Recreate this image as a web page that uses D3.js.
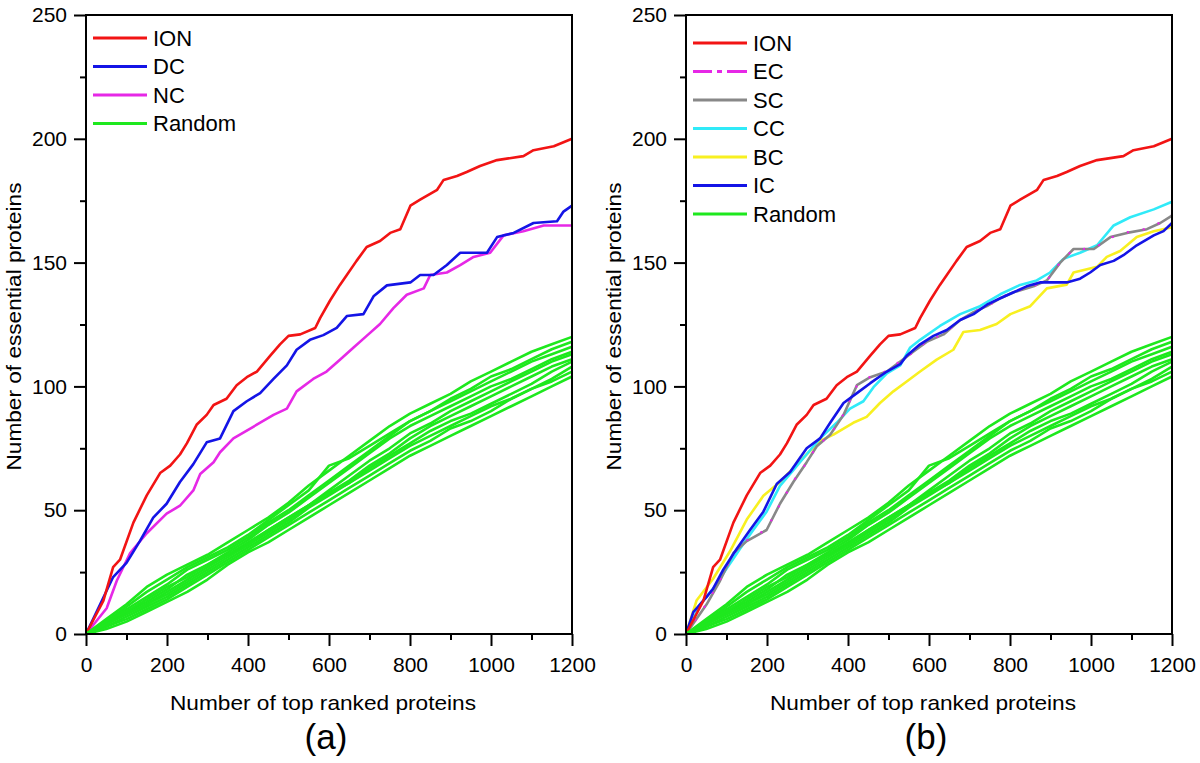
<!DOCTYPE html>
<html><head><meta charset="utf-8">
<script src="https://cdn.jsdelivr.net/npm/d3@7"></script>
<style>
body{margin:0;background:#fff;}
svg text{font-family:"Liberation Sans",Arial,Helvetica,sans-serif;fill:#000;}
</style></head>
<body><svg id="chart" width="1200" height="763"></svg>
<script>
// ---------- DATA ----------
const xTicks = [0,200,400,600,800,1000,1200];
const xMinor = [100,300,500,700,900,1100];
const yTicks = [0,50,100,150,200,250];
const yMinor = [25,75,125,175,225];

const ionX = [0,43,67,84,117,150,183,208,232,249,273,298,315,347,372,397,422,455,479,500,529,566,578,603,627,644,668,693,726,751,776,801,825,867,883,916,940,973,1015,1080,1105,1155,1200];
const ionY = [0,13.5,27,30,45,56,65,68,72.5,77,84.5,88.5,92.5,95,100.5,103.7,106,112.4,117,120.4,121,123.6,127.6,134.8,141,145,150.7,156.3,158.7,162,163.5,173,175.4,179.4,183.4,185,186.6,189,191.4,193,195.4,197,200];

const dcX = [0,35,67,100,133,166,199,232,265,298,331,364,397,430,463,496,520,553,586,619,644,685,710,743,801,825,858,891,924,990,1015,1056,1105,1163,1179,1200];
const dcY = [0,12,23,28.7,37.5,47,52.6,61.4,68.6,77.4,79,90,94,97.3,103,108.5,114.8,118.8,120.7,123.6,128.4,129.2,136.4,140.8,142,145,145,149,154,154,160.3,162,166,166.7,170.6,173];

const ncX = [0,51,76,109,150,199,232,265,282,315,331,364,413,463,496,520,561,594,627,660,693,726,759,792,834,850,891,924,957,998,1031,1080,1130,1200];
const ncY = [0,10.4,21.5,32.7,40.7,48.6,51.8,58,64.6,69.4,73.4,79,83.7,88.5,91,98,103,106,110.8,115.6,120.4,125.2,131.6,137,139.6,145,146,149,152.3,154,161,162.7,165,165];

const icX = [0,18,51,67,92,125,158,191,224,257,298,331,356,389,422,455,496,529,545,578,611,644,677,710,743,776,809,841,874,908,940,973,998,1023,1056,1080,1113,1155,1179,1200];
const icY = [0,8.8,15,18.3,26,34.3,42,49.4,60.6,65.4,75,79,85.3,93.3,97.3,101.3,106,109,112.4,117,120.4,122.8,126.8,129.2,133,135.6,138,140.4,142,142,142,143.5,146,149,150.7,153,157,161,162.7,166];

const ccX = [0,35,67,100,133,166,199,232,265,298,331,372,405,438,463,496,529,553,578,627,677,726,776,825,866,899,932,973,1015,1056,1097,1155,1200];
const ccY = [0,12,18.3,26.3,34.3,42,49.4,59.8,66.2,72.6,79,85.3,91,94,99.7,105.3,108.5,115.6,118.8,124.4,129.2,132.4,137.2,141,142.8,146,151.5,154,157,165,168.3,171.5,174.6];

const scX = [0,51,84,117,150,199,232,265,298,323,356,389,422,455,496,529,561,594,636,677,710,743,776,809,858,891,924,957,1007,1048,1089,1138,1171,1200];
const scY = [0,12,21.5,32.7,37.5,42,52.6,61.4,69.4,75.8,80.5,88.5,100.5,103.7,106,110,114,118,121,126.8,130,132.4,135.6,138,140.4,142.8,150,155.5,155.5,160.3,162,163.5,166,169];

const ecX = [0,51,84,117,150,199,232,265,298,323,356,389,422,455,496,529,561,594,636,677,710,743,776,809,858,891,924,957,1007,1048,1089,1138,1171,1200];
const ecY = [0,12.3,21.8,32.5,37.8,42.3,52.4,61.7,69.2,76,80.3,88.8,100.3,103.9,106.2,110.2,113.8,118.2,121.2,126.6,130.2,132.2,135.8,138.2,140.6,142.6,150.2,155.3,155.7,160.1,162.2,163.7,166.2,169.2];

const bcX = [0,26,67,109,150,191,232,265,298,331,364,413,446,479,512,545,578,619,660,685,726,767,801,850,891,940,957,1015,1039,1072,1113,1155,1200];
const bcY = [0,13.5,22.3,33.5,46.2,55.8,61.4,67,72.6,78,80.5,85.3,87.7,93.3,98,102,106,110.8,114.8,122,122.8,125.2,129.2,132.4,139.6,141.1,146,148.3,152.3,154.7,160.3,162.7,164.3];

// Random runs: values at every 50 proteins (0..1200)
const randX = [0,50,100,150,200,250,300,350,400,450,500,550,600,650,700,750,800,850,900,950,1000,1050,1100,1150,1200];
const randA = [0,6,12,19,24,28,32,37,42,47,53,60,66,72,78,84,89,93,97,102,106,110,114,117,120];
const randB = [0,5,11,17,22,27,31,35,40,46,52,58,68,71,76,81,86,90,95,99,104,107,111,115,118];
const randC = [0,5,10,15,20,26,30,34,39,45,50,56,62,68,74,80,86,90,94,98,102,106,110,113,116];
const randD = [0,4,9,13,18,24,28,33,38,44,49,55,61,67,73,79,84,88,92,96,100,103,107,111,114];
const randE = [0,4,8,12,17,22,27,32,37,42,47,52,58,64,70,75,81,85,90,94,98,102,106,110,113];
const randF = [0,5,9,14,19,23,28,32,36,41,46,52,57,62,68,73,79,84,88,92,96,100,104,108,111];
const randG = [0,3,7,11,15,20,25,30,35,40,45,51,56,61,67,72,77,82,86,89,93,97,101,106,110];
const randH = [0,3,6,10,14,19,24,29,34,39,44,49,54,59,64,69,74,78,83,86,90,95,99,103,108];
const randI = [0,4,8,12,16,21,26,31,36,42,47,52,57,61,66,71,76,80,84,88,92,95,99,102,106];
const randJ = [0,2,5,9,13,17,22,28,33,37,42,47,52,57,62,67,72,76,80,84,88,92,96,100,104];
const randomRuns = [randA,randB,randC,randD,randE,randF,randG,randH,randI,randJ];

const leftLegend  = ["ION","DC","NC","Random"];
const rightLegend = ["ION","EC","SC","CC","BC","IC","Random"];

// ---------- STYLE ----------
const col = {ION:"#f21414", DC:"#1414e6", NC:"#e628e6", Random:"#1ee81e",
             EC:"#e628e6", SC:"#888888", CC:"#30eaf8", BC:"#f8f020", IC:"#1414e6"};

const svg = d3.select("#chart");
const yTop = 15, yBot = 634;
const panels = [
  {x0:86, x1:572, label:"(a)", legend:leftLegend, legY:38, legX:93},
  {x0:686, x1:1172, label:"(b)", legend:rightLegend, legY:43, legX:693}
];

function zip(xs, ys){ return xs.map((x,i)=>[x, ys[i]]); }

panels.forEach((p, pi) => {
  const g = svg.append("g");
  const x = d3.scaleLinear().domain([0,1200]).range([p.x0, p.x1]);
  const y = d3.scaleLinear().domain([0,250]).range([yBot, yTop]);
  const line = d3.line().x(d=>x(d[0])).y(d=>y(d[1]));

  const series = pi === 0
    ? [["NC",zip(ncX,ncY)],["DC",zip(dcX,dcY)],["ION",zip(ionX,ionY)]]
    : [["BC",zip(bcX,bcY)],["CC",zip(ccX,ccY)],["SC",zip(scX,scY)],["EC",zip(ecX,ecY)],["IC",zip(icX,icY)],["ION",zip(ionX,ionY)]];
  series.forEach(([name, data]) => {
    const path = g.append("path").datum(data).attr("d", line)
      .attr("fill","none").attr("stroke", col[name]).attr("stroke-width", 2.6)
      .attr("stroke-linejoin","round");
    if (name === "EC") path.attr("stroke-dasharray","2,14").attr("stroke-width",2.2);
  });
  randomRuns.forEach(r => {
    g.append("path").datum(zip(randX, r)).attr("d", line)
      .attr("fill","none").attr("stroke", col.Random).attr("stroke-width", 2.6)
      .attr("stroke-linejoin","round");
  });

  // frame
  g.append("rect").attr("x", p.x0).attr("y", yTop).attr("width", p.x1-p.x0).attr("height", yBot-yTop)
    .attr("fill","none").attr("stroke","#000").attr("stroke-width",2);

  // axes
  g.append("g").attr("transform",`translate(0,${yBot})`)
    .call(d3.axisBottom(x).tickValues(xTicks).tickSize(12).tickPadding(11).tickFormat(d3.format("d")));
  g.append("g").attr("transform",`translate(0,${yBot})`)
    .call(d3.axisBottom(x).tickValues(xMinor).tickSize(6).tickFormat(""));
  g.append("g").attr("transform",`translate(${p.x0},0)`)
    .call(d3.axisLeft(y).tickValues(yTicks).tickSize(12).tickPadding(7).tickFormat(d3.format("d")));
  g.append("g").attr("transform",`translate(${p.x0},0)`)
    .call(d3.axisLeft(y).tickValues(yMinor).tickSize(6).tickFormat(""));
  g.selectAll(".domain").remove();
  g.selectAll(".tick line").attr("stroke","#000").attr("stroke-width",2);
  g.selectAll(".tick text").attr("font-size",21).attr("font-family",'"Liberation Sans",Arial,sans-serif');

  // titles
  g.append("text").attr("x",(p.x0+p.x1)/2 - 6).attr("y",710).attr("text-anchor","middle")
    .attr("font-size",21).attr("textLength",306).attr("lengthAdjust","spacingAndGlyphs")
    .text("Number of top ranked proteins");
  g.append("text").attr("transform",`translate(${p.x0-65},${(yTop+yBot)/2 + 2}) rotate(-90)`)
    .attr("text-anchor","middle").attr("font-size",21).attr("textLength",288).attr("lengthAdjust","spacingAndGlyphs")
    .text("Number of essential proteins");
  g.append("text").attr("x",(p.x0+p.x1)/2 - 3).attr("y",749).attr("text-anchor","middle")
    .attr("font-size",35).text(p.label);

  // legend
  p.legend.forEach((name, i) => {
    const ly = p.legY + i*28.5;
    const l = g.append("line").attr("x1",p.legX).attr("x2",p.legX+54).attr("y1",ly).attr("y2",ly)
      .attr("stroke", col[name]).attr("stroke-width",3);
    if (name === "EC") l.attr("stroke-dasharray","19,5,5,5,20");
    g.append("text").attr("x",p.legX+60).attr("y",ly).attr("dy","0.36em")
      .attr("font-size",22).text(name);
  });
});
</script></body></html>
